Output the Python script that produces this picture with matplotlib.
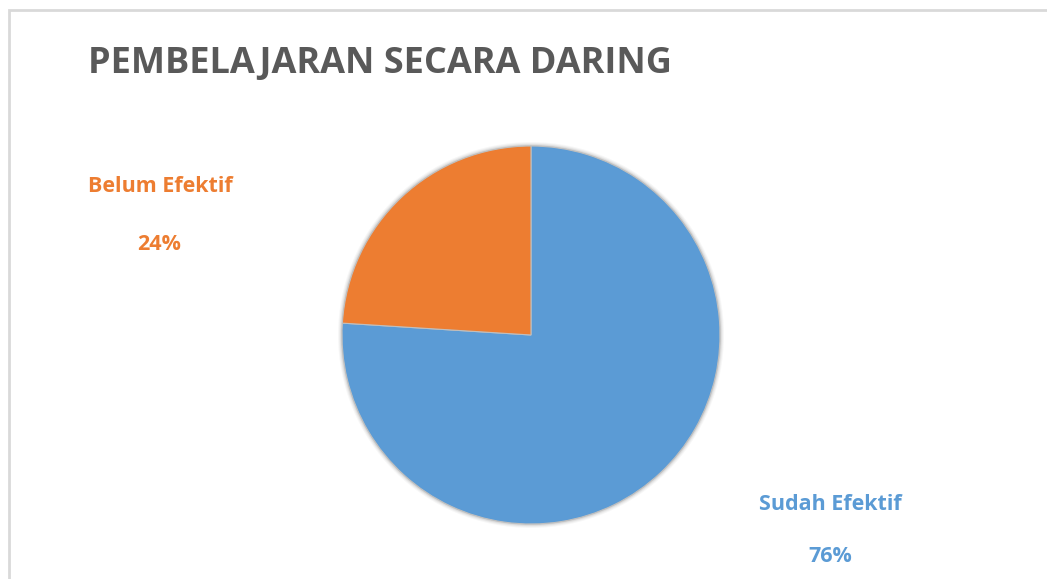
import matplotlib
matplotlib.use("Agg")
import matplotlib.pyplot as plt
from matplotlib.patches import Rectangle, Circle

title = "PEMBELAJARAN SECARA DARING"
categories = ["Sudah Efektif", "Belum Efektif"]
values = [76, 24]
colors = ["#5B9BD5", "#ED7D31"]

W, H = 1047, 579
fig = plt.figure(figsize=(W / 100, H / 100), dpi=100)
ax = fig.add_axes([0, 0, 1, 1])
ax.set_xlim(0, W)
ax.set_ylim(0, H)
ax.axis("off")

# chart border
ax.add_patch(Rectangle((8.5, -20), W + 50, H - 9.5 + 20, fill=False,
                       edgecolor="#D9D9D9", linewidth=2))

cx, cy, r = 531, H - 335, 189
# soft shadow
for k, a in [(4, 0.03), (3, 0.04), (2, 0.06), (1, 0.08)]:
    ax.add_patch(Circle((cx, cy), r + k, color="#000000", alpha=a, lw=0))

ax.pie(values, colors=colors, startangle=90, counterclock=False,
       center=(cx, cy), radius=r, frame=True,
       wedgeprops=dict(linewidth=0.8, edgecolor="#BFBFBF"))
ax.set_xlim(0, W)
ax.set_ylim(0, H)
ax.set_aspect("equal")
ax.axis("off")

font = "Open Sans"
ax.text(88, H - 73, title, fontsize=26, fontweight="bold", color="#595959",
        family=font, ha="left", va="baseline")

# labels
ax.text(160.5, H - 192, categories[1], fontsize=15.5, fontweight="bold",
        color=colors[1], family=font, ha="center", va="baseline")
ax.text(159, H - 250, f"{values[1]}%", fontsize=15.5, fontweight="bold",
        color=colors[1], family=font, ha="center", va="baseline")
ax.text(830, H - 510.5, categories[0], fontsize=15.5, fontweight="bold",
        color=colors[0], family=font, ha="center", va="baseline")
ax.text(830, H - 562, f"{values[0]}%", fontsize=15.5, fontweight="bold",
        color=colors[0], family=font, ha="center", va="baseline")

fig.savefig("out.png", dpi=100)
